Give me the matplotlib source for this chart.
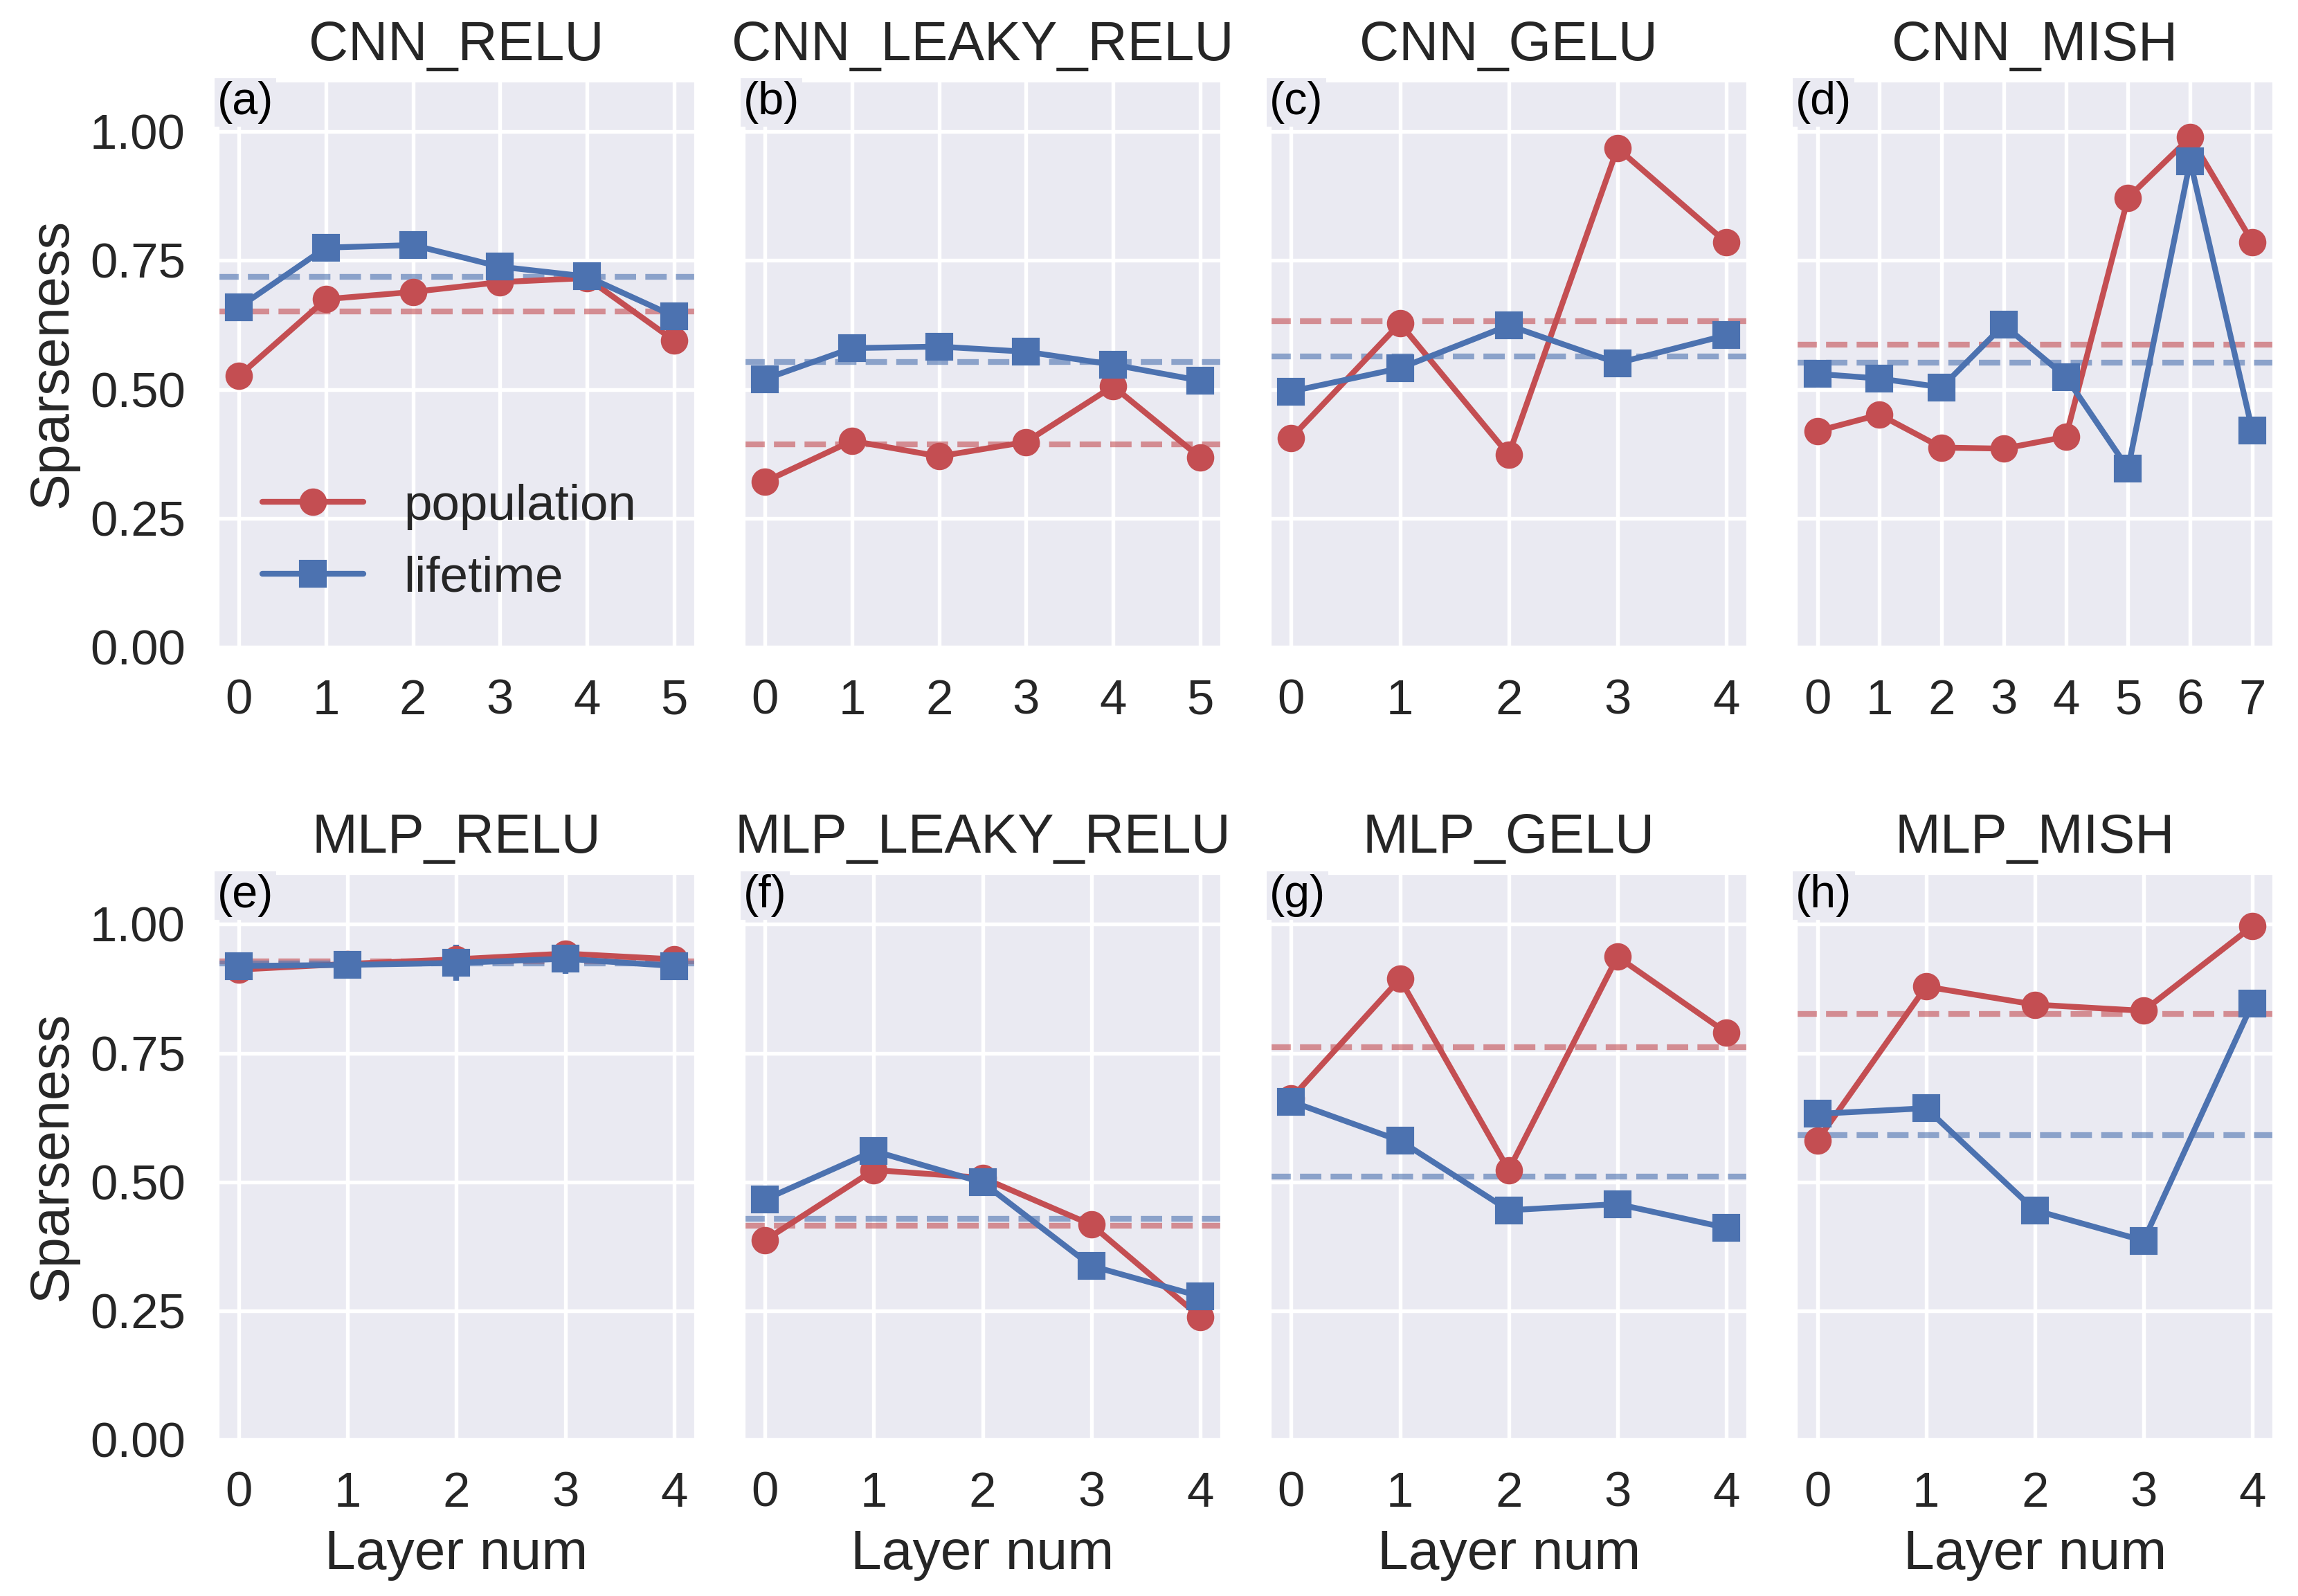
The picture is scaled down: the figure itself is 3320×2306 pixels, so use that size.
import numpy as np
import matplotlib
matplotlib.use("Agg")
import matplotlib.pyplot as plt
import seaborn as sns

# ---------------- data ----------------
titles = ["CNN_RELU", "CNN_LEAKY_RELU", "CNN_GELU", "CNN_MISH",
          "MLP_RELU", "MLP_LEAKY_RELU", "MLP_GELU", "MLP_MISH"]
panel_labels = ["(a)", "(b)", "(c)", "(d)", "(e)", "(f)", "(g)", "(h)"]

cnn_relu_pop = [0.526, 0.675, 0.689, 0.708, 0.716, 0.595]
cnn_relu_life = [0.659, 0.775, 0.780, 0.738, 0.719, 0.642]
cnn_leaky_pop = [0.321, 0.400, 0.370, 0.398, 0.506, 0.368]
cnn_leaky_life = [0.520, 0.580, 0.583, 0.573, 0.548, 0.517]
cnn_gelu_pop = [0.406, 0.628, 0.373, 0.968, 0.785]
cnn_gelu_life = [0.496, 0.541, 0.624, 0.551, 0.605]
cnn_mish_pop = [0.419, 0.451, 0.387, 0.385, 0.408, 0.872, 0.989, 0.786]
cnn_mish_life = [0.530, 0.521, 0.504, 0.625, 0.524, 0.346, 0.943, 0.420]
mlp_relu_pop = [0.912, 0.923, 0.932, 0.943, 0.932]
mlp_relu_life = [0.919, 0.921, 0.925, 0.933, 0.919]
mlp_leaky_pop = [0.387, 0.523, 0.508, 0.417, 0.238]
mlp_leaky_life = [0.466, 0.560, 0.499, 0.337, 0.278]
mlp_gelu_pop = [0.662, 0.894, 0.523, 0.937, 0.790]
mlp_gelu_life = [0.656, 0.580, 0.445, 0.457, 0.411]
mlp_mish_pop = [0.580, 0.879, 0.844, 0.832, 0.996]
mlp_mish_life = [0.632, 0.643, 0.445, 0.386, 0.846]

# error bars (only visible in MLP_RELU)
mlp_relu_pop_err = [0.0, 0.0, 0.012, 0.012, 0.0]
mlp_relu_life_err = [0.0, 0.0, 0.035, 0.029, 0.0]

population = [cnn_relu_pop, cnn_leaky_pop, cnn_gelu_pop, cnn_mish_pop,
              mlp_relu_pop, mlp_leaky_pop, mlp_gelu_pop, mlp_mish_pop]
lifetime = [cnn_relu_life, cnn_leaky_life, cnn_gelu_life, cnn_mish_life,
            mlp_relu_life, mlp_leaky_life, mlp_gelu_life, mlp_mish_life]
pop_err = [None, None, None, None, mlp_relu_pop_err, None, None, None]
life_err = [None, None, None, None, mlp_relu_life_err, None, None, None]

yticks = [0.0, 0.25, 0.5, 0.75, 1.0]

# ---------------- style ----------------
sns.set_theme(style="darkgrid")
plt.rcParams['font.family'] = ['Liberation Sans', 'DejaVu Sans']
plt.rcParams['grid.linewidth'] = 1.3
plt.rcParams['axes.facecolor'] = '#EAEAF2'

RED = '#C44E52'
BLUE = '#4C72B0'
TEXT = '#262626'
LW = 2.0
MS = 8.5

fig, axes = plt.subplots(2, 4, figsize=(3320 / 300, 2306 / 300), dpi=300, sharey=True)
fig.subplots_adjust(left=0.0945, right=0.9896, top=0.9498, bottom=0.098,
                    wspace=0.0995, hspace=0.398)

for i, ax in enumerate(axes.flat):
    pop = population[i]
    life = lifetime[i]
    x = np.arange(len(pop))
    ax.axhline(np.mean(pop), color=RED, alpha=0.6, ls='--', lw=LW)
    ax.axhline(np.mean(life), color=BLUE, alpha=0.6, ls='--', lw=LW)
    ax.errorbar(x, pop, yerr=pop_err[i], color=RED, marker='o', ms=MS, lw=LW,
                elinewidth=LW, capsize=0, label='population')
    ax.errorbar(x, life, yerr=life_err[i], color=BLUE, marker='s', ms=MS, lw=LW,
                elinewidth=LW, capsize=0, label='lifetime')
    ax.set_ylim(0, 1.1)
    ax.set_yticks(yticks)
    ax.set_xticks(x)
    ax.set_title(titles[i], fontsize=19, color=TEXT, pad=7)
    ax.tick_params(axis='both', labelsize=17, colors=TEXT, pad=11, length=0)
    ax.text(0.0, 0.998, panel_labels[i], transform=ax.transAxes, ha='left', va='top',
            fontsize=16, color='black',
            bbox=dict(facecolor='#EAEAF2', edgecolor='none', pad=1.0))
    if i % 4 == 0:
        ax.set_ylabel('Sparseness', fontsize=19, color=TEXT)
    if i >= 4:
        ax.set_xlabel('Layer num', fontsize=19.3, color=TEXT)
    if i == 0:
        ax.legend(loc='lower left', fontsize=17.5, frameon=False)

fig.savefig('out.png', dpi=300)
